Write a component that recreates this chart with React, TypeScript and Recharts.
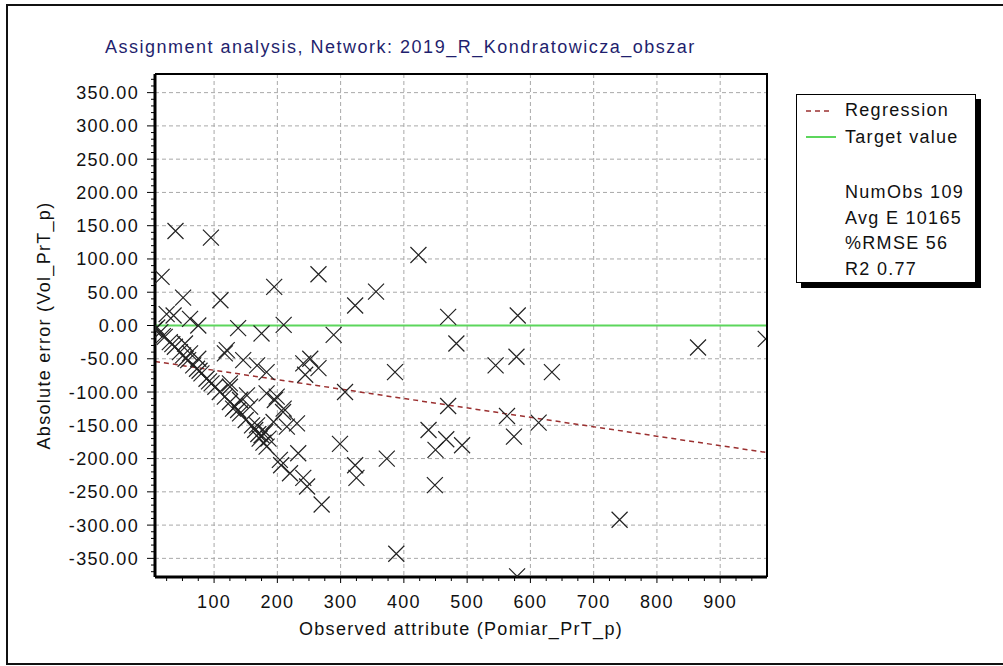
import { CartesianGrid, ReferenceLine, Scatter, ScatterChart, XAxis, YAxis } from "recharts";

// observed attribute (x) and absolute error (y)
const observed = [
  39, 95, 17, 51, 110, 195, 265, 323, 356, 423,
  36, 62, 75, 25, 138, 175, 210, 289, 470, 580,
  483, 865, 972, 386, 545, 578, 634, 470, 563, 613,
  439, 467, 450, 492, 574, 373, 449, 741, 388, 579,
  307, 299, 323, 325, 252, 241, 265, 244,
  6, 10, 15, 22, 30, 38, 46, 51, 59, 67, 73, 80, 88, 96, 102, 109, 117, 125, 133,
  19, 34, 55, 77, 92,
  141, 150, 160,
  54, 62, 75, 120, 117, 146, 168, 183, 125, 141, 152, 157, 138, 125, 199, 183, 210, 196, 194, 215, 231, 209, 130,
  165, 170, 172, 175, 178, 181, 183, 186, 168,
  204, 206, 220, 233, 241, 247, 270,
];
const absError = [
  142, 132, 73, 42, 38, 58, 77, 30, 51, 106,
  15, 10, 0, 17, -4, -12, 1, -14, 13, 15,
  -27, -33, -20, -70, -60, -47, -70, -121, -136, -146,
  -157, -171, -187, -180, -167, -200, -240, -292, -343, -377,
  -100, -178, -210, -229, -50, -57, -64, -74,
  -6, -3, -10, -17, -25, -32, -40, -45, -52, -60, -65, -72, -80, -87, -92, -100, -107, -115, -122,
  -16, -28, -50, -68, -84,
  -132, -142, -150,
  -27, -42, -50, -37, -42, -52, -60, -70, -92, -112, -105, -122, -127, -87, -107, -102, -125, -112, -145, -152, -147, -130, -125,
  -157, -163, -170, -165, -176, -160, -182, -170, -150,
  -202, -210, -222, -192, -229, -242, -269,
];
const points = observed.map((x, i) => ({ x, y: absError[i] }));

const regression = [
  { x: 6.6, y: -54 },
  { x: 974, y: -191 },
];
const targetValue = 0;

const xLabels = [100, 200, 300, 400, 500, 600, 700, 800, 900];
const yLabels = [-350, -300, -250, -200, -150, -100, -50, 0, 50, 100, 150, 200, 250, 300, 350];
const xMinorTicks = Array.from({ length: 38 }, (_, i) => 25 * (i + 1));
const yMinorTicks = Array.from({ length: 75 }, (_, i) => -370 + 10 * i);
const stats = ["NumObs 109", "Avg E 10165", "%RMSE 56", "R2 0.77"];

const FONT = '"Liberation Sans", Arial, sans-serif';
const textStyle = { fontFamily: FONT, fontSize: 18, letterSpacing: 1.3, fill: "#111" };

function XTick(props: any) {
  const { x, y, payload } = props;
  const major = payload.value % 100 === 0;
  return (
    <g>
      <line x1={x} x2={x} y1={y} y2={y + (major ? 6 : 4)} stroke="#000" />
      {major && (
        <text x={x} y={y + 31} textAnchor="middle" {...textStyle}>
          {payload.value}
        </text>
      )}
    </g>
  );
}

function YTick(props: any) {
  const { x, y, payload } = props;
  const major = payload.value % 50 === 0;
  return (
    <g>
      <line x1={x - (major ? 8 : 4)} x2={x} y1={y} y2={y} stroke="#000" />
      {major && (
        <text x={x - 16} y={y + 6.5} textAnchor="end" {...textStyle}>
          {payload.value.toFixed(2)}
        </text>
      )}
    </g>
  );
}

function Cross(props: any) {
  const { cx, cy } = props;
  if (cx == null || cy == null) return null;
  return (
    <path
      d={`M${cx - 8},${cy - 8}L${cx + 8},${cy + 8}M${cx + 8},${cy - 8}L${cx - 8},${cy + 8}`}
      stroke="#222"
      strokeWidth={1.2}
      fill="none"
    />
  );
}

export default function App() {
  return (
    <div style={{ position: "absolute", left: 0, top: 0, width: 1003, height: 666, background: "#fff", overflow: "hidden", fontFamily: FONT }}>
      <div style={{ position: "absolute", left: 6, top: 4, width: 1040, height: 661, border: "2px solid #111", boxSizing: "border-box" }} />
      <div style={{ position: "absolute", left: 105, top: 38, fontSize: 18, lineHeight: "18px", letterSpacing: 1.5, color: "#1f1f6e", whiteSpace: "nowrap" }}>
        Assignment analysis, Network: 2019_R_Kondratowicza_obszar
      </div>
      <div style={{ position: "absolute", left: 0, top: 0 }}>
        <ScatterChart width={1003} height={666} margin={{ top: 74, right: 236, bottom: 0, left: 10 }}>
          <CartesianGrid horizontalValues={yLabels} verticalValues={xLabels} stroke="#a8a8a8" strokeDasharray="4 3" />
          <XAxis
            type="number"
            dataKey="x"
            domain={[6.6, 974]}
            allowDataOverflow
            ticks={xMinorTicks}
            interval={0}
            tickSize={0}
            tickMargin={0}
            tickLine={false}
            tick={<XTick />}
            axisLine={{ stroke: "#000", strokeWidth: 3 }}
            height={89}
            label={{ value: "Observed attribute (Pomiar_PrT_p)", position: "insideBottom", offset: 31, ...textStyle }}
          />
          <YAxis
            type="number"
            dataKey="y"
            domain={[-378, 378]}
            allowDataOverflow
            ticks={yMinorTicks}
            interval={0}
            tickSize={0}
            tickMargin={0}
            tickLine={false}
            tick={<YTick />}
            axisLine={{ stroke: "#000", strokeWidth: 3 }}
            width={145}
            label={{
              value: "Absolute error (Vol_PrT_p)",
              angle: -90,
              position: "insideLeft",
              offset: 34,
              ...textStyle,
              style: { textAnchor: "middle" },
            }}
          />
          <ReferenceLine y={targetValue} stroke="#5cd65c" strokeWidth={2} />
          <ReferenceLine segment={[regression[0], regression[1]]} stroke="#9b3030" strokeWidth={1.5} strokeDasharray="5 4" />
          <Scatter data={points} shape={<Cross />} isAnimationActive={false} />
        </ScatterChart>
      </div>
      <div style={{ position: "absolute", left: 155, top: 73, width: 613, height: 504, borderTop: "2px solid #000", borderRight: "2px solid #000", boxSizing: "border-box", pointerEvents: "none" }} />
      <div
        style={{
          position: "absolute",
          left: 796,
          top: 94,
          width: 180,
          height: 189,
          border: "1px solid #000",
          boxSizing: "border-box",
          background: "#fff",
          boxShadow: "5px 5px 0 #000",
          fontSize: 18,
          letterSpacing: 1.3,
          color: "#111",
        }}
      >
        <svg width={40} height={50} style={{ position: "absolute", left: 8, top: 0 }}>
          <line x1={1} x2={28} y1={16} y2={16} stroke="#9b3030" strokeWidth={1.5} strokeDasharray="5 4" />
          <line x1={1} x2={31} y1={42} y2={42} stroke="#5cd65c" strokeWidth={2} />
        </svg>
        <div style={{ position: "absolute", left: 48, top: 6, lineHeight: "18px", whiteSpace: "nowrap" }}>Regression</div>
        <div style={{ position: "absolute", left: 48, top: 33, lineHeight: "18px", whiteSpace: "nowrap" }}>Target value</div>
        {stats.map((s, i) => (
          <div key={s} style={{ position: "absolute", left: 48, top: 88 + i * 25.5, lineHeight: "18px", whiteSpace: "nowrap" }}>
            {s}
          </div>
        ))}
      </div>
    </div>
  );
}
